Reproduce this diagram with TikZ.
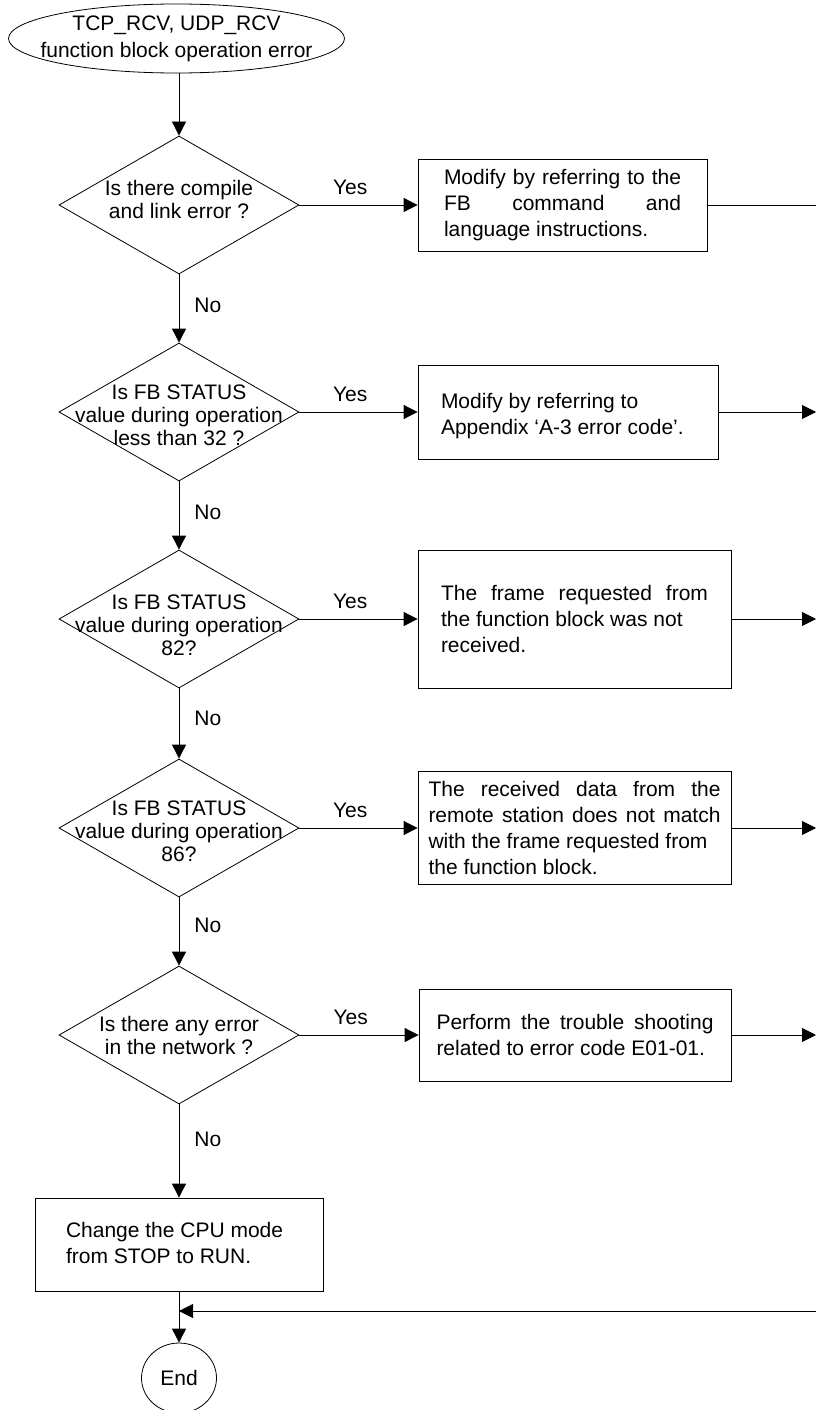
\documentclass[tikz,border=0pt]{standalone}
\usepackage{fontspec}
\setmainfont{Liberation Sans}
\usetikzlibrary{shapes.geometric, arrows.meta}
\tolerance=9999
\hbadness=10000

\tikzset{
  arr/.style={-{Triangle[length=14pt,width=14pt]}, line width=0.8pt},
  terminal/.style={ellipse, draw, line width=0.8pt, inner sep=0pt, font=\fontsize{21}{27}\selectfont},
  decision/.style={diamond, draw, line width=0.8pt, minimum width=240pt, minimum height=138pt, inner sep=0pt},
  qtext/.style={align=center, inner sep=0pt, font=\fontsize{21}{23}\selectfont},
  action/.style={rectangle, draw, line width=0.8pt, inner sep=0pt, align=justify, font=\fontsize{21}{26}\selectfont},
  lbl/.style={inner sep=0pt, font=\fontsize{21}{25}\selectfont}
}

\begin{document}
\begin{tikzpicture}[x=1pt, y=-1pt]
  \useasboundingbox (0,0) rectangle (816,1410);

  \node[terminal, minimum width=336pt, minimum height=69pt,
    label={[qtext, font=\fontsize{21}{27}\selectfont]center:{TCP\_RCV, UDP\_RCV\\function block operation error}}] (start) at (176.5,38.5) {};

  \node[decision, label={[qtext, yshift=6pt]center:{Is there compile\\and link error ?}}] (d1) at (179,205) {};
  \node[decision, label={[qtext, yshift=-3pt]center:{Is FB STATUS\\value during operation\\less than 32 ?}}] (d2) at (179,412) {};
  \node[decision, label={[qtext, yshift=-6pt]center:{Is FB STATUS\\value during operation\\82?}}] (d3) at (179,619) {};
  \node[decision, label={[qtext, yshift=-3pt]center:{Is FB STATUS\\value during operation\\86?}}] (d4) at (179,828) {};
  \node[decision, label={[qtext]center:{Is there any error\\in the network ?}}] (d5) at (179,1035) {};

  \node[action, minimum width=289pt, minimum height=92pt, text width=237pt] (b1) at (562.5,205)
    {Modify by referring to the\linebreak FB command and\linebreak language instructions.};
  \node[action, minimum width=300pt, minimum height=94pt, text width=254pt, text depth=21.5pt] (b2) at (568,412)
    {Modify by referring to\\ Appendix ‘A-3 error code’.};
  \node[action, minimum width=313pt, minimum height=138pt, text width=267pt] (b3) at (574.5,619)
    {The frame requested from\linebreak the function block was not\\ received.};
  \node[action, minimum width=313pt, minimum height=113pt, text width=292pt] (b4) at (574.5,828)
    {The received data from the\linebreak remote station does not match\linebreak with the frame requested from\\ the function block.};
  \node[action, minimum width=312pt, minimum height=92pt, text width=277pt] (b5) at (575,1035)
    {Perform the trouble shooting\linebreak related to error code E01-01.};

  \node[action, minimum width=288pt, minimum height=93pt, text width=226pt, text depth=29pt] (fin) at (179,1244.5)
    {Change the CPU mode\\ from STOP to RUN.};
  \node[terminal, minimum width=75pt, minimum height=70pt] (end) at (179,1378) {End};

  \coordinate (edge) at (816,0);
  \coordinate (ret) at (816,1311);

  \draw[arr] (d1.north |- start.south) -- (d1.north);
  \foreach \a/\b/\p in {d1/d2/0.46, d2/d3/0.46, d3/d4/0.43, d4/d5/0.41, d5/fin/0.38} {
    \draw[arr] (\a.south) -- (\b.north) node[lbl, pos=\p, right=15pt] {No};
  }
  \foreach \i in {1,...,5} {
    \draw[arr] (d\i.east) -- (b\i.west) node[lbl, pos=0.43, above=9.5pt] {Yes};
    \ifnum\i>1
      \draw[arr] (b\i.east) -- (b\i.east -| edge);
    \fi
  }
  \draw[line width=0.8pt] (b1.east) -- (b1.east -| edge);
  \draw[arr] (fin.south) -- (end.north);
  \draw[arr] (ret) -- (ret -| fin.south);
\end{tikzpicture}
\end{document}
